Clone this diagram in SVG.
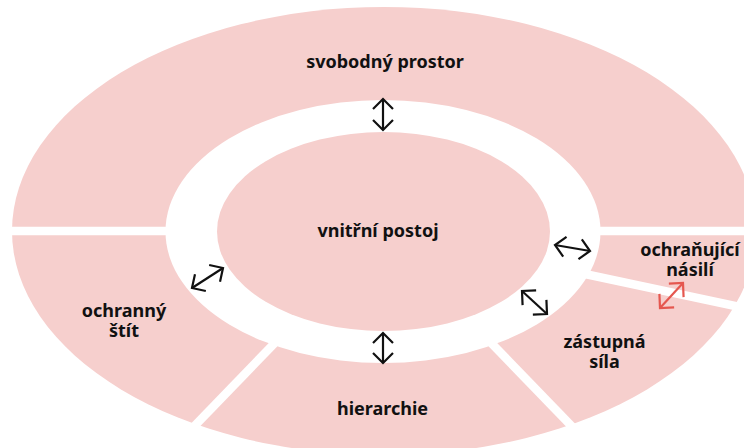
<svg xmlns="http://www.w3.org/2000/svg" width="744" height="448" viewBox="0 0 744 448">
  <style>
    .pink { fill: #f6cfcd; }
    .gap { stroke: #ffffff; stroke-width: 8.5; fill: none; }
    .lbl { font-family: "Noto Sans", "Open Sans", "DejaVu Sans", sans-serif; font-weight: 700; font-size: 18px; fill: #111111; text-anchor: middle; }
    .arr { stroke: #111111; stroke-width: 2.2; fill: none; marker-start: url(#hb); marker-end: url(#hb); }
    .arr-red { stroke: #e5574f; stroke-width: 2.2; fill: none; marker-start: url(#hr); marker-end: url(#hr); }
  </style>
  <defs>
    <marker id="hb" markerUnits="userSpaceOnUse" markerWidth="30" markerHeight="30" refX="0" refY="0" viewBox="-15 -15 30 30" orient="auto-start-reverse" overflow="visible">
      <path d="M-10,-10 L0,0 L-10,10" fill="none" stroke="#111111" stroke-width="2.2"/>
    </marker>
    <marker id="hr" markerUnits="userSpaceOnUse" markerWidth="30" markerHeight="30" refX="0" refY="0" viewBox="-15 -15 30 30" orient="auto-start-reverse" overflow="visible">
      <path d="M-10,-10 L0,0 L-10,10" fill="none" stroke="#e5574f" stroke-width="2.2"/>
    </marker>
  </defs>

  <g id="outer-ring">
    <ellipse class="pink" cx="384" cy="231" rx="372" ry="224"/>
  </g>

  <g id="segment-gaps">
    <line class="gap" x1="0" y1="231" x2="744" y2="231"/>
    <line class="gap" x1="383" y1="231" x2="800" y2="319.8"/>
    <line class="gap" x1="383" y1="231" x2="661" y2="518.6"/>
    <line class="gap" x1="383" y1="231" x2="105" y2="518.6"/>
  </g>

  <g id="white-ring">
    <ellipse cx="383" cy="231.5" rx="217.5" ry="131.5" fill="#ffffff"/>
  </g>

  <g id="vnitrni-postoj">
    <ellipse class="pink" cx="383.5" cy="231.5" rx="166.5" ry="99.5"/>
    <text class="lbl" x="378" y="237">vnitřní postoj</text>
  </g>

  <g id="svobodny-prostor">
    <text class="lbl" x="385" y="68">svobodný prostor</text>
  </g>
  <g id="ochranujici-nasili">
    <text class="lbl" x="690" y="256">ochraňující</text>
    <text class="lbl" x="690" y="276">násilí</text>
  </g>
  <g id="ochranny-stit">
    <text class="lbl" x="124" y="317">ochranný</text>
    <text class="lbl" x="124" y="337">štít</text>
  </g>
  <g id="hierarchie">
    <text class="lbl" x="382.5" y="415">hierarchie</text>
  </g>
  <g id="zastupna-sila">
    <text class="lbl" x="604.5" y="348">zástupná</text>
    <text class="lbl" x="604.5" y="368">síla</text>
  </g>

  <g id="connectors">
    <line class="arr" x1="383" y1="99" x2="383" y2="130"/>
    <line class="arr" x1="383" y1="333" x2="383" y2="363"/>
    <line class="arr" x1="192" y1="288" x2="223" y2="268"/>
    <line class="arr" x1="555" y1="245" x2="590" y2="251"/>
    <line class="arr" x1="522" y1="291" x2="547" y2="314"/>
    <line class="arr-red" x1="660" y1="308" x2="683" y2="283"/>
  </g>
</svg>
